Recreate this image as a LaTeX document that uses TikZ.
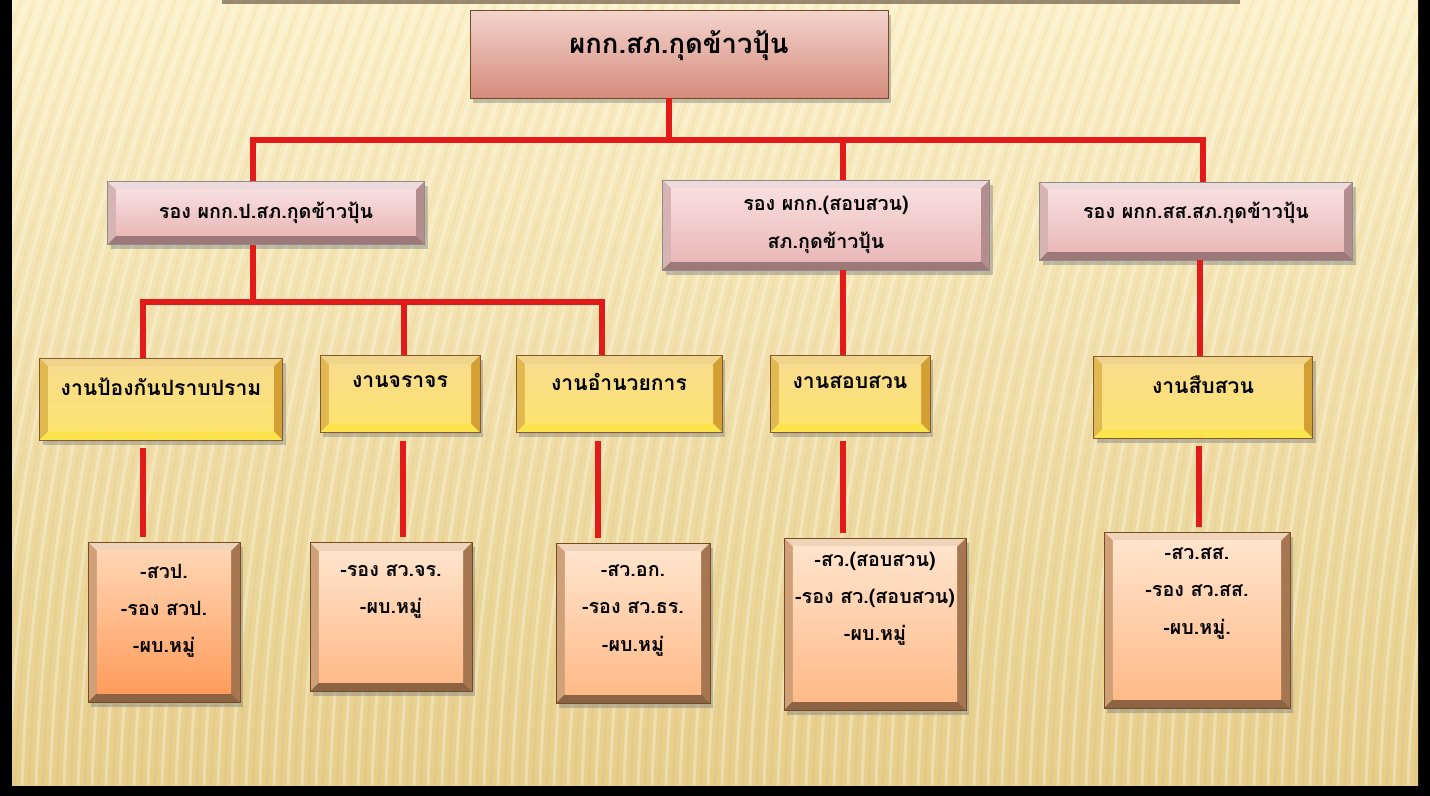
\documentclass[tikz,border=0pt]{standalone}
\usepackage{fontspec}
\newfontfamily\thaifont[Script=Thai]{Loma}
\usetikzlibrary{positioning, shadows}

\definecolor{bgtop}{HTML}{FBF0C8}
\definecolor{bgbot}{HTML}{E6CE8A}
\definecolor{linkred}{HTML}{E31A1A}
% chief box
\definecolor{chiefT}{RGB}{244,212,205}
\definecolor{chiefB}{RGB}{213,139,124}
% deputies (pink)
\definecolor{pinkT}{RGB}{238,218,218}
\definecolor{pinkL}{RGB}{214,180,180}
\definecolor{pinkR}{RGB}{180,142,142}
\definecolor{pinkB}{RGB}{156,120,120}
\definecolor{pinkIT}{RGB}{248,222,222}
\definecolor{pinkIB}{RGB}{234,184,184}
% units (gold)
\definecolor{goldT}{RGB}{240,212,140}
\definecolor{goldL}{RGB}{226,184,80}
\definecolor{goldR}{RGB}{212,160,52}
\definecolor{goldB}{RGB}{252,228,76}
\definecolor{goldIT}{RGB}{248,220,142}
\definecolor{goldIB}{RGB}{252,228,110}
% posts (peach)
\definecolor{peachT}{RGB}{240,212,186}
\definecolor{peachL}{RGB}{208,160,120}
\definecolor{peachR}{RGB}{166,118,80}
\definecolor{peachB}{RGB}{140,100,68}
\definecolor{peachIT}{RGB}{255,228,204}
\definecolor{peachIB}{RGB}{255,186,136}
\definecolor{hotIT}{RGB}{255,214,180}
\definecolor{hotIB}{RGB}{255,156,92}

\tikzset{
  link/.style={linkred, line width=3.6pt},
  boxsize/.style 2 args={minimum width=#1*0.025cm, minimum height=#2*0.025cm},
  bevel/.style n args={6}{
    path picture={
      \coordinate (osw) at (path picture bounding box.south west);
      \coordinate (one) at (path picture bounding box.north east);
      \coordinate (isw) at ([shift={(.22cm,.22cm)}]osw);
      \coordinate (ine) at ([shift={(-.22cm,-.22cm)}]one);
      \fill[#1] (osw |- one) -- (one) -- (ine) -- (isw |- ine) -- cycle;
      \fill[#2] (osw) -- (osw |- one) -- (isw |- ine) -- (isw) -- cycle;
      \fill[#3] (one) -- (one |- osw) -- (ine |- isw) -- (ine) -- cycle;
      \fill[#4] (osw) -- (one |- osw) -- (ine |- isw) -- (isw) -- cycle;
      \shade[top color=#5, bottom color=#6] (isw) rectangle (ine);
    }},
  shade box/.style={drop shadow={shadow xshift=.08cm, shadow yshift=-.12cm, opacity=.45}},
  chief/.style={rectangle, inner sep=0, draw=brown!60!black, line width=.6pt,
    top color=chiefT, bottom color=chiefB, shade box},
  dep/.style={rectangle, inner sep=0, draw=black!45, line width=.5pt, shade box,
    bevel={pinkT}{pinkL}{pinkR}{pinkB}{pinkIT}{pinkIB}},
  unit/.style={rectangle, inner sep=0, draw=brown!70!black, line width=.5pt, shade box,
    bevel={goldT}{goldL}{goldR}{goldB}{goldIT}{goldIB}},
  post/.style={rectangle, inner sep=0, draw=brown!60!black, line width=.5pt, shade box,
    bevel={peachT}{peachL}{peachR}{peachB}{peachIT}{peachIB}},
  posthot/.style={rectangle, inner sep=0, draw=brown!60!black, line width=.5pt, shade box,
    bevel={peachT}{peachL}{peachR}{peachB}{hotIT}{hotIB}},
  lbl/.style={font=\thaifont\bfseries\fontsize{14}{26.5}\selectfont, align=center, text=black, inner sep=0},
  unitlbl/.style={lbl, font=\thaifont\bfseries\fontsize{15}{26}\selectfont},
  biglbl/.style={lbl, font=\thaifont\bfseries\fontsize{19.5}{26}\selectfont}
}

\begin{document}
\begin{tikzpicture}[x=0.025cm, y=-0.025cm]
  % background and frame
  \fill[black] (0,0) rectangle (1430,796);
  \shade[top color=bgtop, bottom color=bgbot] (12,0) rectangle (1418,785);
  \begin{scope}
    \clip (12,0) rectangle (1418,785);
    \foreach \x in {0,14,...,1720}
      \draw[white, opacity=.3, line width=2.2pt] (\x,0) .. controls (\x-90,250) and (\x-150,500) .. (\x-160,785);
    \foreach \x in {7,21,...,1727}
      \draw[brown, opacity=.06, line width=1.6pt] (\x,0) .. controls (\x-90,250) and (\x-150,500) .. (\x-160,785);
    \fill[black!70!brown, opacity=.5] (222,0) rectangle (1240,4);
  \end{scope}
  \useasboundingbox (0,0) rectangle (1430,796);

  % boxes
  \node[chief, boxsize={418}{88}] (chief) at (679,54) {};
  \node[dep, boxsize={317}{63}] (ropa) at (266,213) {};
  \node[dep, boxsize={327}{90}] (rosob) at (826,225) {};
  \node[dep, boxsize={313}{78}] (ross) at (1196,221) {};

  \node[unit, boxsize={243}{82}] (gpa) at (161,399) {};
  \node[unit, boxsize={160}{77}] (gtr) at (400,394) {};
  \node[unit, boxsize={206}{77}] (gadm) at (619,394) {};
  \node[unit, boxsize={160}{77}] (ginv) at (850,394) {};
  \node[unit, boxsize={219}{82}] (gss) at (1203,397) {};

  \node[posthot, boxsize={152}{160}] (ppa) at (164,622) {};
  \node[post, boxsize={162}{149}] (ptr) at (391,617) {};
  \node[post, boxsize={154}{160}] (padm) at (633,623) {};
  \node[post, boxsize={182}{172}] (pinv) at (875,624) {};
  \node[post, boxsize={186}{176}] (pss) at (1197,620) {};

  % texts
  \node[biglbl] (chief-t) at ([yshift=.22cm]chief.center) {ผกก.สภ.กุดข้าวปุ้น};
  \node[lbl] (ropa-t) at (ropa.center) {รอง ผกก.ป.สภ.กุดข้าวปุ้น};
  \node[lbl] (rosob-t) at (rosob.center) {รอง ผกก.(สอบสวน)\\สภ.กุดข้าวปุ้น};
  \node[lbl] (ross-t) at ([yshift=.2cm]ross.center) {รอง ผกก.สส.สภ.กุดข้าวปุ้น};

  \node[unitlbl] (gpa-t) at ([yshift=.3cm]gpa.center) {งานป้องกันปราบปราม};
  \node[unitlbl] (gtr-t) at ([yshift=.3cm]gtr.center) {งานจราจร};
  \node[unitlbl] (gadm-t) at ([yshift=.3cm]gadm.center) {งานอำนวยการ};
  \node[unitlbl] (ginv-t) at ([yshift=.3cm]ginv.center) {งานสอบสวน};
  \node[unitlbl] (gss-t) at ([yshift=.3cm]gss.center) {งานสืบสวน};

  \node[lbl, anchor=north] (ppa-t) at ([yshift=-.55cm]ppa.north) {-สวป.\\-รอง สวป.\\-ผบ.หมู่};
  \node[lbl, anchor=north] (ptr-t) at ([yshift=-.55cm]ptr.north) {-รอง สว.จร.\\-ผบ.หมู่};
  \node[lbl, anchor=north] (padm-t) at ([yshift=-.55cm]padm.north) {-สว.อก.\\-รอง สว.ธร.\\-ผบ.หมู่};
  \node[lbl, anchor=north] (pinv-t) at ([yshift=-.35cm]pinv.north) {-สว.(สอบสวน)\\-รอง สว.(สอบสวน)\\-ผบ.หมู่};
  \node[lbl, anchor=north] (pss-t) at ([yshift=-.4cm]pss.north) {-สว.สส.\\-รอง สว.สส.\\-ผบ.หมู่.};

  % connectors
  \coordinate (hub) at (669,140);
  \coordinate (hubL) at (253,140);
  \coordinate (hubM) at (843,140);
  \coordinate (hubR) at (1203,140);
  \coordinate (sub) at (253,302);
  \coordinate (subL) at (143,302);
  \coordinate (subM) at (404,302);
  \coordinate (subR) at (602,302);

  \draw[link] (chief.south -| hub) -- (hub);
  \draw[link] (ropa.north -| hubL) -- (hubL) -- (hubR) -- (ross.north -| hubR);
  \draw[link] (hubM) -- (rosob.north -| hubM);
  \draw[link] (ropa.south -| sub) -- (sub);
  \draw[link] (gpa.north -| subL) -- (subL) -- (subR) -- (gadm.north -| subR);
  \draw[link] (subM) -- (gtr.north -| subM);
  \draw[link] (rosob.south -| hubM) -- (ginv.north -| hubM);
  \draw[link] (ross.south -| 1200,0) -- (gss.north -| 1200,0);

  \draw[link, shorten <=.2cm, shorten >=.12cm] (gpa.south -| subL) -- (ppa.north -| subL);
  \draw[link, shorten <=.2cm, shorten >=.12cm] (gtr.south -| 403,0) -- (ptr.north -| 403,0);
  \draw[link, shorten <=.2cm, shorten >=.12cm] (gadm.south -| 598,0) -- (padm.north -| 598,0);
  \draw[link, shorten <=.2cm, shorten >=.12cm] (ginv.south -| hubM) -- (pinv.north -| hubM);
  \draw[link, shorten <=.2cm, shorten >=.12cm] (gss.south -| 1199,0) -- (pss.north -| 1199,0);
\end{tikzpicture}
\end{document}
